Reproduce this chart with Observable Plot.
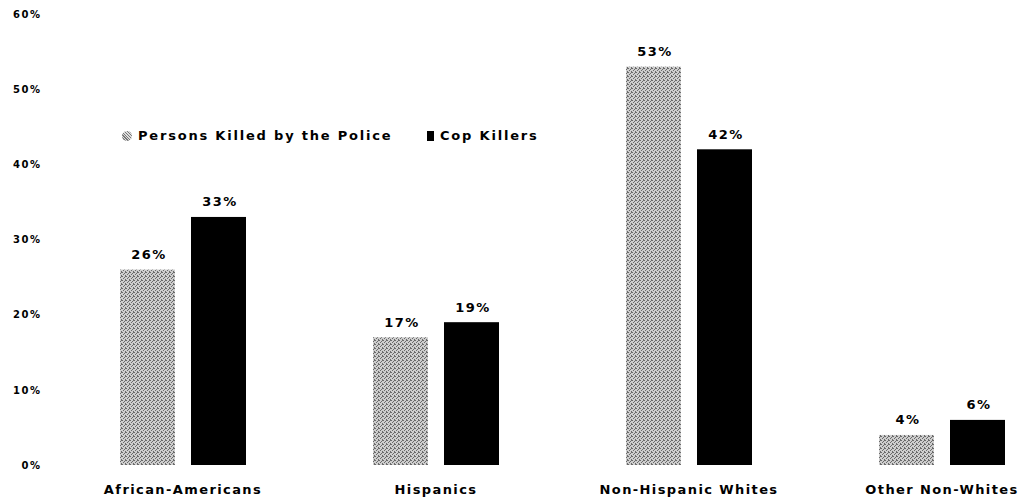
<!DOCTYPE html>
<html><head><meta charset="utf-8">
<script src="https://cdn.jsdelivr.net/npm/d3@7"></script>
<script src="https://cdn.jsdelivr.net/npm/@observablehq/plot@0.6"></script>
<style>
body{margin:0;background:#fff;font-family:"DejaVu Sans",sans-serif;}
#wrap{position:relative;width:1025px;height:502px;}
.lg{position:absolute;top:128px;display:flex;align-items:center;font:bold 13px "DejaVu Sans",sans-serif;color:#000;white-space:nowrap;letter-spacing:1.8px;line-height:16px}
.lg .sw{display:inline-block;margin-right:6px}
</style></head>
<body><div id="wrap"></div>
<script>
const groups = ["African-Americans", "Hispanics", "Non-Hispanic Whites", "Other Non-Whites"];
const series = ["Persons Killed by the Police", "Cop Killers"];
const killedByPolice = [26, 17, 53, 4];
const copKillers = [33, 19, 42, 6];
const yTicks = [0, 10, 20, 30, 40, 50, 60];
const colors = ["url(#stipple)", "#000000"];

const data = groups.flatMap((g, i) => [
  {group: g, series: series[0], value: killedByPolice[i]},
  {group: g, series: series[1], value: copKillers[i]}
]);

const chart = Plot.plot({
  width: 1025, height: 502,
  marginLeft: 109, marginRight: 10, marginTop: 14, marginBottom: 37,
  style: {fontFamily: "DejaVu Sans, sans-serif", fontWeight: "bold", color: "#000", background: "#fff"},
  fx: {domain: groups, paddingInner: 0.433, paddingOuter: 0, label: null, axis: "bottom", tickSize: 0, tickPadding: 19},
  x: {domain: series, padding: 0, axis: null},
  y: {domain: [0, 60], ticks: yTicks, tickFormat: d => d + "%", tickSize: 0, tickPadding: 70, label: null},
  color: {domain: series, range: colors},
  marks: [
    Plot.barY(data, {fx: "group", x: "series", y: "value", fill: "series", insetLeft: 8, insetRight: 8}),
    Plot.text(data, {fx: "group", x: "series", y: "value", text: d => d.value + "%", dy: -11, dx: 1, lineAnchor: "bottom", fontSize: 13, fontWeight: "bold", fill: "#000"})
  ]
});

// stipple pattern for the grey bars (a dithered grey, as in the scanned original)
const ns = "http://www.w3.org/2000/svg";
const defs = document.createElementNS(ns, "defs");
const pat = document.createElementNS(ns, "pattern");
pat.setAttribute("id", "stipple");
pat.setAttribute("patternUnits", "userSpaceOnUse");
pat.setAttribute("width", 4); pat.setAttribute("height", 4);
const bg = document.createElementNS(ns, "rect");
bg.setAttribute("width", 4); bg.setAttribute("height", 4); bg.setAttribute("fill", "#cdcdcd");
pat.appendChild(bg);
[[0,0],[2,1],[1,2],[3,3],[3,0]].forEach(([px, py]) => {
  const r = document.createElementNS(ns, "rect");
  r.setAttribute("x", px); r.setAttribute("y", py); r.setAttribute("width", 1); r.setAttribute("height", 1);
  r.setAttribute("fill", "#6a6a6a");
  pat.appendChild(r);
});
defs.appendChild(pat);
chart.insertBefore(defs, chart.firstChild);

chart.querySelectorAll('[aria-label="fx-axis tick label"] text').forEach(t => { t.setAttribute("font-size", 13); t.setAttribute("letter-spacing", "1.4"); });
chart.querySelectorAll('[aria-label="y-axis tick label"] text').forEach(t => { t.setAttribute("font-size", 10); t.setAttribute("letter-spacing", "1.5"); });
chart.querySelectorAll('[aria-label="text"] text').forEach(t => t.setAttribute("letter-spacing", "1.5"));
const wrap = document.getElementById("wrap");
wrap.appendChild(chart);

const legendPos = [122, 427];
series.forEach((s, i) => {
  const it = document.createElement("div");
  it.className = "lg";
  it.style.left = legendPos[i] + "px";
  const sw = document.createElement("span");
  sw.className = "sw";
  if (i === 0) {
    sw.style.width = "10px"; sw.style.height = "10px";
    sw.style.background = "repeating-linear-gradient(45deg,#777 0 1px,#ddd 1px 2px)";
    sw.style.borderRadius = "50%";
  } else {
    sw.style.width = "7px"; sw.style.height = "10px"; sw.style.background = "#000";
  }
  it.appendChild(sw);
  it.appendChild(document.createTextNode(s));
  wrap.appendChild(it);
});
</script></body></html>
